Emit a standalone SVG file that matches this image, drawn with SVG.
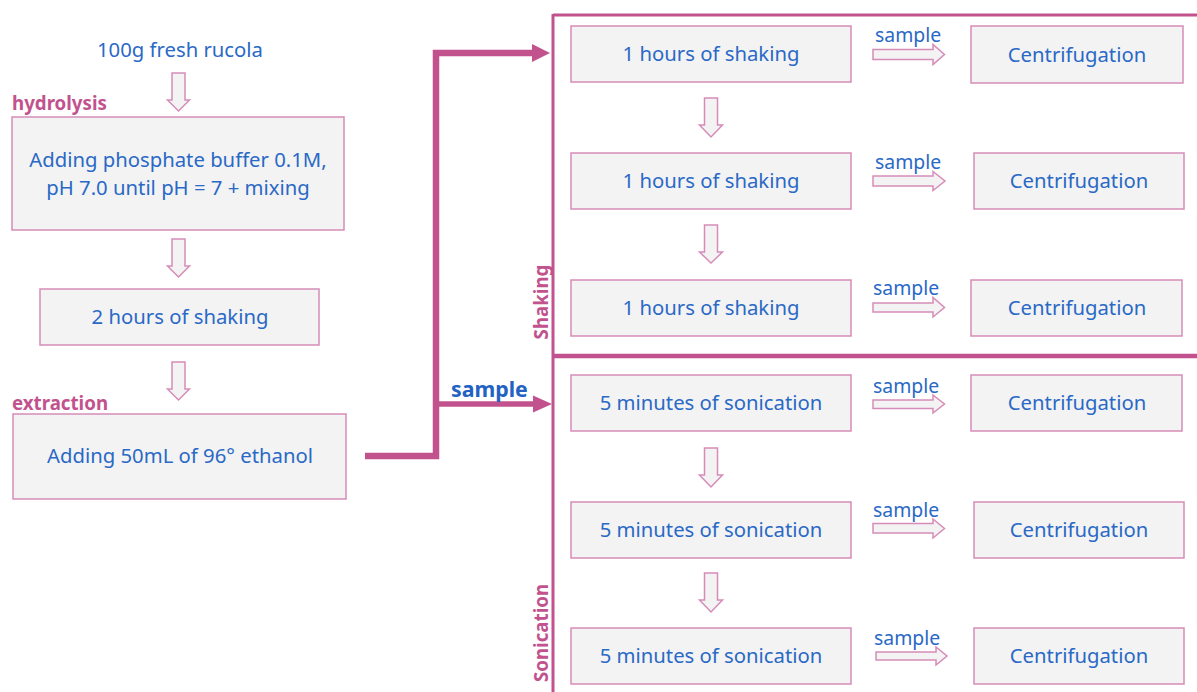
<svg xmlns="http://www.w3.org/2000/svg" width="1197" height="692" viewBox="0 0 1197 692">
<style>
.box{fill:#F3F3F3;stroke:#D68CB8;stroke-width:1.5}
.ha{fill:#F3F3F3;stroke:#D68CB8;stroke-width:1.5;stroke-linejoin:miter}
.t{font-family:"Noto Sans","Open Sans",sans-serif;font-size:20.3px;fill:#2A69C6;text-anchor:middle}
.s{font-family:"Noto Sans","Open Sans",sans-serif;font-size:19.4px;fill:#2A69C6}
.lab{font-family:"Noto Sans","Open Sans",sans-serif;font-size:18.7px;font-weight:bold;fill:#C2528E}
.conn{fill:none;stroke:#C2528E;stroke-linejoin:miter}
.head{fill:#C2528E}
</style>
<rect width="1197" height="692" fill="#FFFFFF"/>

<!-- frame -->
<g id="frame">
<line x1="553" y1="15" x2="1197" y2="15" stroke="#C2528E" stroke-width="3"/>
<line x1="553" y1="14" x2="553" y2="692" stroke="#C2528E" stroke-width="3"/>
<line x1="553" y1="356" x2="1197" y2="356" stroke="#C2528E" stroke-width="4.5"/>
<text class="lab" transform="translate(548,302) rotate(-90)" text-anchor="middle">Shaking</text>
<text class="lab" transform="translate(548,633) rotate(-90)" text-anchor="middle">Sonication</text>
</g>

<!-- connectors -->
<g id="connectors">
<polyline class="conn" points="365,456 436,456 436,53 534,53" stroke-width="6.5"/>
<polygon class="head" points="532,44 550,53 532,62"/>
<line class="conn" x1="436" y1="404" x2="535" y2="404" stroke-width="5.5"/>
<polygon class="head" points="533,395.5 552,404 533,412.5"/>
<text x="451" y="397" font-family="Noto Sans, Open Sans, sans-serif" font-size="21.3px" font-weight="bold" fill="#2262C2">sample</text>
<!-- left hollow down arrows -->
<polygon class="ha" points="172,73 185,73 185,100 189.5,100 178.5,111 167.5,100 172,100"/>
<polygon class="ha" points="172,239 185,239 185,266 189.5,266 178.5,277 167.5,266 172,266"/>
<polygon class="ha" points="172,362 185,362 185,389 189.5,389 178.5,400 167.5,389 172,389"/>
<!-- right hollow down arrows -->
<polygon class="ha" points="704.5,98 717.5,98 717.5,125 722.5,125 711,137 699.5,125 704.5,125"/>
<polygon class="ha" points="704.5,225 717.5,225 717.5,252 722.5,252 711,263 699.5,252 704.5,252"/>
<polygon class="ha" points="704.5,448 717.5,448 717.5,475 722.5,475 711,487 699.5,475 704.5,475"/>
<polygon class="ha" points="704.5,573 717.5,573 717.5,600 722.5,600 711,612 699.5,600 704.5,600"/>
<!-- right hollow sample arrows -->
<polygon class="ha" points="873,49.5 933,49.5 933,44.5 944.5,54.5 933,64.5 933,59.5 873,59.5"/>
<text class="s" x="875" y="42">sample</text>
<polygon class="ha" points="873,176 933,176 933,171.5 945,181 933,190.5 933,186 873,186"/>
<text class="s" x="875" y="169">sample</text>
<polygon class="ha" points="873,303 933,303 933,297.5 944.5,307.5 933,317 933,312 873,312"/>
<text class="s" x="873" y="295">sample</text>
<polygon class="ha" points="873,400 933,400 933,395 944.5,404 933,413 933,408.5 873,408.5"/>
<text class="s" x="873" y="393">sample</text>
<polygon class="ha" points="873,523.5 933,523.5 933,519 944.5,528.5 933,538 933,533 873,533"/>
<text class="s" x="873" y="517">sample</text>
<polygon class="ha" points="876,652 936,652 936,647 947,656 936,665 936,660 876,660"/>
<text class="s" x="874" y="645">sample</text>
</g>

<!-- left column -->
<g id="n-rucola"><text class="t" x="180" y="57">100g fresh rucola</text></g>
<g id="n-hydrolysis">
<text class="lab" x="12" y="110">hydrolysis</text>
<rect class="box" x="12" y="117" width="332" height="113"/>
<text class="t" x="178" y="167">Adding phosphate buffer 0.1M,</text>
<text class="t" x="178" y="195">pH 7.0 until pH = 7 + mixing</text>
</g>
<g id="n-shaking2"><rect class="box" x="40" y="289" width="279" height="56"/><text class="t" x="180" y="324">2 hours of shaking</text></g>
<g id="n-extraction">
<text class="lab" x="12" y="410">extraction</text>
<rect class="box" x="13" y="414" width="333" height="85"/>
<text class="t" x="180" y="463">Adding 50mL of 96° ethanol</text>
</g>

<!-- shaking rows -->
<g id="n-sh1"><rect class="box" x="571" y="26" width="280" height="56"/><text class="t" x="711" y="61">1 hours of shaking</text></g>
<g id="n-c1"><rect class="box" x="971" y="26" width="212" height="57"/><text class="t" x="1077" y="62">Centrifugation</text></g>
<g id="n-sh2"><rect class="box" x="571" y="153" width="280" height="56"/><text class="t" x="711" y="188">1 hours of shaking</text></g>
<g id="n-c2"><rect class="box" x="974" y="153" width="210" height="56"/><text class="t" x="1079" y="188">Centrifugation</text></g>
<g id="n-sh3"><rect class="box" x="571" y="280" width="280" height="56"/><text class="t" x="711" y="315">1 hours of shaking</text></g>
<g id="n-c3"><rect class="box" x="971" y="280" width="211" height="56"/><text class="t" x="1077" y="315">Centrifugation</text></g>

<!-- sonication rows -->
<g id="n-so1"><rect class="box" x="571" y="375" width="280" height="56"/><text class="t" x="711" y="410">5 minutes of sonication</text></g>
<g id="n-c4"><rect class="box" x="971" y="375" width="211" height="56"/><text class="t" x="1077" y="410">Centrifugation</text></g>
<g id="n-so2"><rect class="box" x="571" y="502" width="280" height="56"/><text class="t" x="711" y="537">5 minutes of sonication</text></g>
<g id="n-c5"><rect class="box" x="974" y="502" width="210" height="56"/><text class="t" x="1079" y="537">Centrifugation</text></g>
<g id="n-so3"><rect class="box" x="571" y="628" width="280" height="56"/><text class="t" x="711" y="663">5 minutes of sonication</text></g>
<g id="n-c6"><rect class="box" x="974" y="628" width="210" height="56"/><text class="t" x="1079" y="663">Centrifugation</text></g>
</svg>
